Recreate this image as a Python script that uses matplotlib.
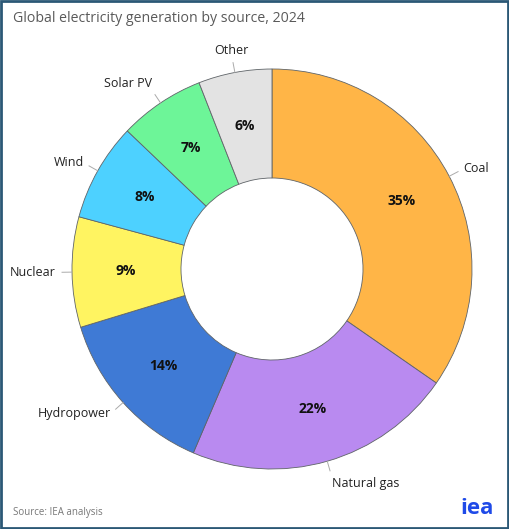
import numpy as np
import matplotlib
matplotlib.use('Agg')
import matplotlib.pyplot as plt
from matplotlib.patches import Rectangle

plt.rcParams['font.family'] = ['Open Sans', 'DejaVu Sans']

sources = ["Coal", "Natural gas", "Hydropower", "Nuclear", "Wind", "Solar PV", "Other"]
shares = [35, 22, 14, 9, 8, 7, 6]
colors = ["#FFB547", "#B98AF0", "#3F7AD5", "#FFF461", "#4DD1FF", "#6DF598", "#E3E3E3"]

fig = plt.figure(figsize=(5.09, 5.29), dpi=100)
ax = fig.add_axes([72 / 509, 60 / 529, 400 / 509, 400 / 529])

wedges, _ = ax.pie(shares, colors=colors, startangle=90, counterclock=False,
                   radius=1.0, wedgeprops=dict(width=0.545, edgecolor='#5f6468', linewidth=0.6))
ax.set_xlim(-1, 1)
ax.set_ylim(-1, 1)
ax.set_aspect('equal')
ax.axis('off')

for w, name, val in zip(wedges, sources, shares):
    ang = np.deg2rad((w.theta1 + w.theta2) / 2)
    c, s = np.cos(ang), np.sin(ang)
    # percentage in the ring
    ax.text(0.73 * c, 0.73 * s, f"{val}%", ha='center', va='center',
            fontsize=10, fontweight='bold', color='#111111')
    # leader line + label
    ax.plot([1.0 * c, 1.05 * c], [1.0 * s, 1.05 * s], color='#aaaaaa', lw=0.7, clip_on=False)
    if abs(c) < 0.2:
        ha = 'center'
    elif c > 0:
        ha = 'left'
    else:
        ha = 'right'
    if s > 0.8:
        va = 'bottom'
    elif s < -0.8:
        va = 'top'
    else:
        va = 'center'
    ax.text(1.08 * c, 1.08 * s, name, ha=ha, va=va, fontsize=9, color='#222222')

fig.text(13 / 509, 1 - 19 / 529, "Global electricity generation by source, 2024",
         fontsize=10.2, color='#5a5a5a', ha='left', va='center')
fig.text(13 / 509, 1 - 512 / 529, "Source: IEA analysis",
         fontsize=7, color='#777777', ha='left', va='center')
fig.text(494 / 509, 1 - 508 / 529, "iea", fontsize=16, fontweight='bold',
         color='#1F4AE8', ha='right', va='center')

fig.patches.append(Rectangle((0.002, 0.002), 0.996, 0.996, transform=fig.transFigure,
                             fill=False, edgecolor='#2B5876', linewidth=2))

fig.savefig('out.png', dpi=100)
